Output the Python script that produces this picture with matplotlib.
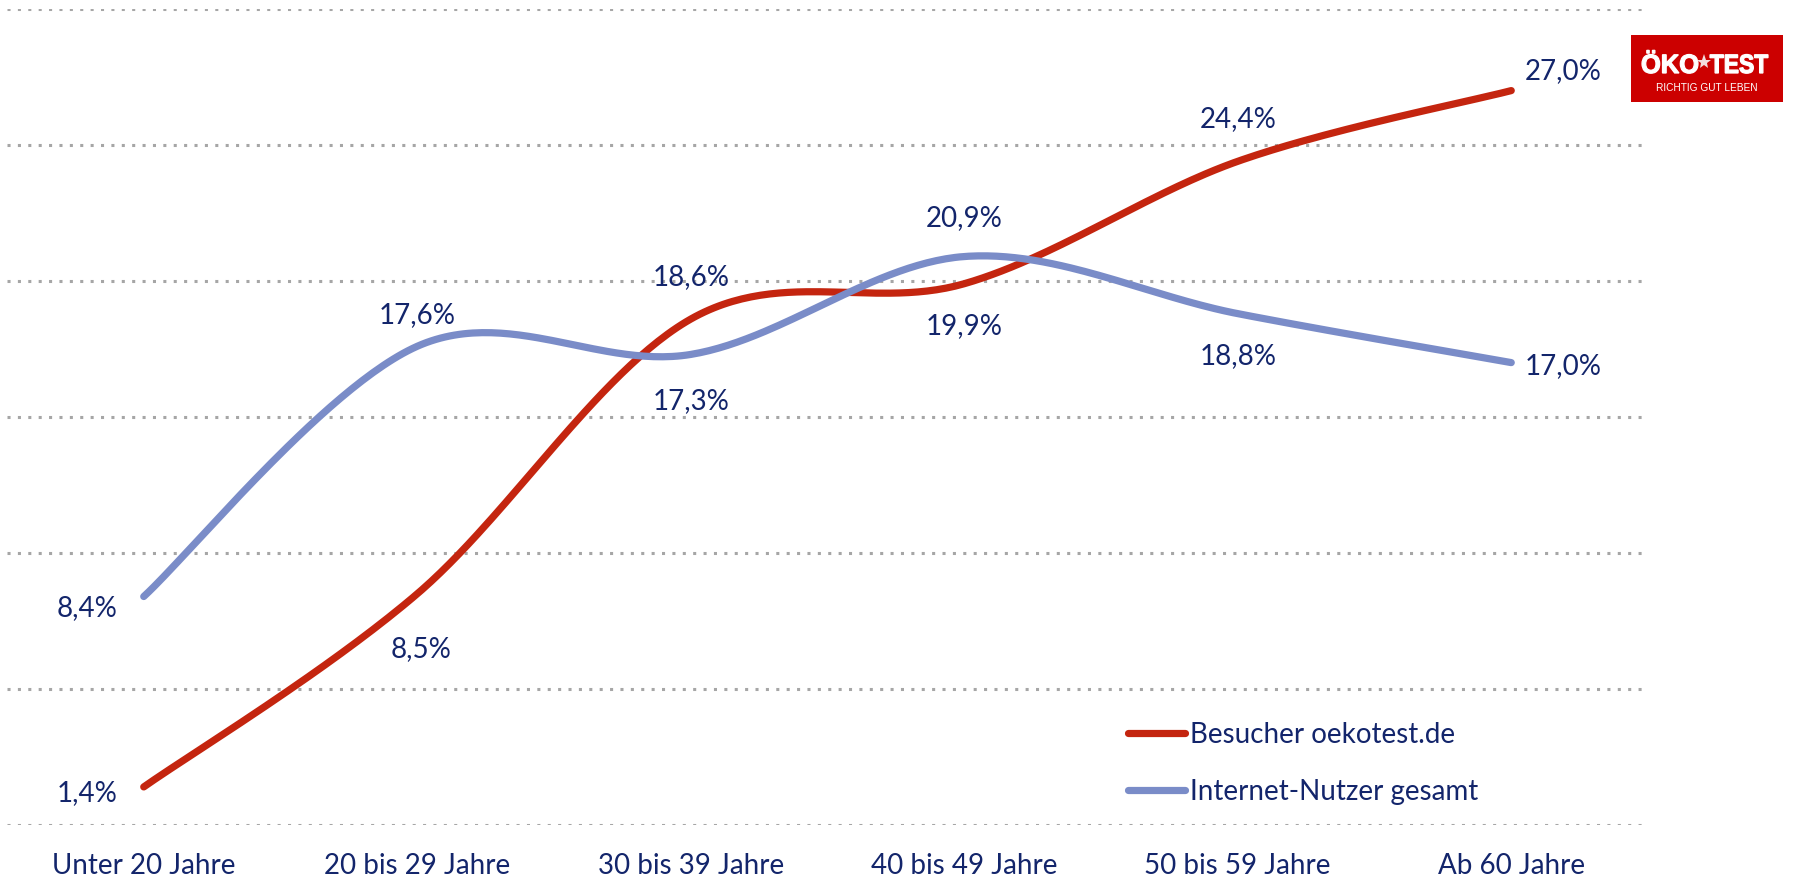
import numpy as np
import matplotlib
matplotlib.use("Agg")
import matplotlib.pyplot as plt
from matplotlib.patches import Rectangle, PathPatch
from matplotlib.textpath import TextPath
from matplotlib.font_manager import FontProperties
from matplotlib.transforms import Affine2D

# data
categories = ["Unter 20 Jahre", "20 bis 29 Jahre", "30 bis 39 Jahre",
              "40 bis 49 Jahre", "50 bis 59 Jahre", "Ab 60 Jahre"]
besucher = [1.4, 8.5, 18.6, 19.9, 24.4, 27.0]
internet = [8.4, 17.6, 17.3, 20.9, 18.8, 17.0]
series_names = ["Besucher oekotest.de", "Internet-Nutzer gesamt"]

# where each value label sits relative to its point (pixels, y down)
besucher_offsets = [(-57, 6), (4, 55), (0, -42), (0, 42), (0, -42), (52, -20)]
internet_offsets = [(-57, 12), (0, -31), (0, 47), (0, -38), (0, 42), (52, 3)]

RED = "#C4250F"
BLUE = "#7A8CC8"
NAVY = "#13256B"
FONT = ["Lato", "DejaVu Sans"]


def smooth(y, n=60):
    # Excel-like smoothed line (Catmull-Rom as cubic Bezier)
    x = np.arange(len(y), dtype=float)
    y = np.asarray(y, dtype=float)
    pts = np.column_stack([x, y])
    ext = np.vstack([pts[0], pts, pts[-1]])
    out = []
    t = np.linspace(0, 1, n)[:, None]
    for i in range(len(pts) - 1):
        p0, p3 = ext[i + 1], ext[i + 2]
        c1 = p0 + (ext[i + 2] - ext[i]) / 6.0
        c2 = p3 - (ext[i + 3] - ext[i + 1]) / 6.0
        seg = (1 - t) ** 3 * p0 + 3 * (1 - t) ** 2 * t * c1 + 3 * (1 - t) * t ** 2 * c2 + t ** 3 * p3
        out.append(seg if i == 0 else seg[1:])
    out = np.vstack(out)
    return out[:, 0], out[:, 1]


W, H = 1793, 881
fig = plt.figure(figsize=(W / 100, H / 100), dpi=100)
ax = fig.add_axes([7 / W, 56 / H, (1648 - 7) / W, (825 - 9) / H])

ax.set_xlim(-0.5, len(categories) - 0.5)
ax.set_ylim(0, 30)
ax.set_yticks(np.arange(0, 31, 5))
ax.yaxis.grid(True, color="#A6A6A6", linestyle=(0, (1, 2.4)), linewidth=2.2)
ax.tick_params(axis="y", left=False, labelleft=False)
ax.tick_params(axis="x", bottom=False, pad=17)
ax.set_xticks(range(len(categories)))
ax.set_xticklabels(categories, fontsize=20, color=NAVY, family=FONT)
for s in ax.spines.values():
    s.set_visible(False)
ax.set_axisbelow(True)

for vals, color, name in [(besucher, RED, series_names[0]), (internet, BLUE, series_names[1])]:
    sx, sy = smooth(vals)
    ax.plot(sx, sy, color=color, lw=5.2, solid_capstyle="round", label=name)

for vals, offs in [(besucher, besucher_offsets), (internet, internet_offsets)]:
    for i, (v, o) in enumerate(zip(vals, offs)):
        ax.annotate(f"{v:.1f}%".replace(".", ","), (i, v), xytext=(o[0], -o[1]),
                    textcoords="offset pixels", ha="center", va="center",
                    fontsize=20, color=NAVY, family=FONT)

leg = ax.legend(loc="upper left", bbox_to_anchor=(1128 / W, 1 - 722 / H),
                bbox_transform=fig.transFigure, frameon=False, borderpad=0,
                borderaxespad=0, handlelength=2.05, handletextpad=0.2,
                labelspacing=1.1, prop={"family": FONT, "size": 20})
for t in leg.get_texts():
    t.set_color(NAVY)

# logo, drawn in its own pixel-sized axes
lx0, lx1, ly0, ly1 = 1631, 1783, 35, 102
lw, lh = lx1 - lx0, ly1 - ly0
lax = fig.add_axes([lx0 / W, 1 - ly1 / H, lw / W, lh / H])
lax.set_xlim(0, lw)
lax.set_ylim(0, lh)
lax.axis("off")
lax.add_patch(Rectangle((0, 0), lw, lh, color="#CC0000"))
bold = FontProperties(family=["Liberation Sans", "DejaVu Sans"], weight="bold")


def logo_word(word, x0, x1, base, cap):
    tp = TextPath((0, 0), word, size=100, prop=bold)
    ext = tp.get_extents()
    sx = (x1 - x0) / ext.width
    sy = cap / 71.6
    tr = Affine2D().translate(-ext.x0, 0).scale(sx, sy).translate(x0, base)
    lax.add_patch(PathPatch(tr.transform_path(tp), facecolor="white",
                            edgecolor="white", lw=0.9))


logo_word("ÖKO", 11, 67, 29, 19)
logo_word("TEST", 79, 137, 29, 19)
lax.plot([73], [40], marker="*", markersize=11, color="#F3DCDC", mew=0)
lax.text(lw / 2, 14, "RICHTIG GUT LEBEN", ha="center", va="center", color="white",
         fontsize=7.3, family=["Liberation Sans", "DejaVu Sans"])

fig.savefig("out.png", dpi=100, facecolor="white")
